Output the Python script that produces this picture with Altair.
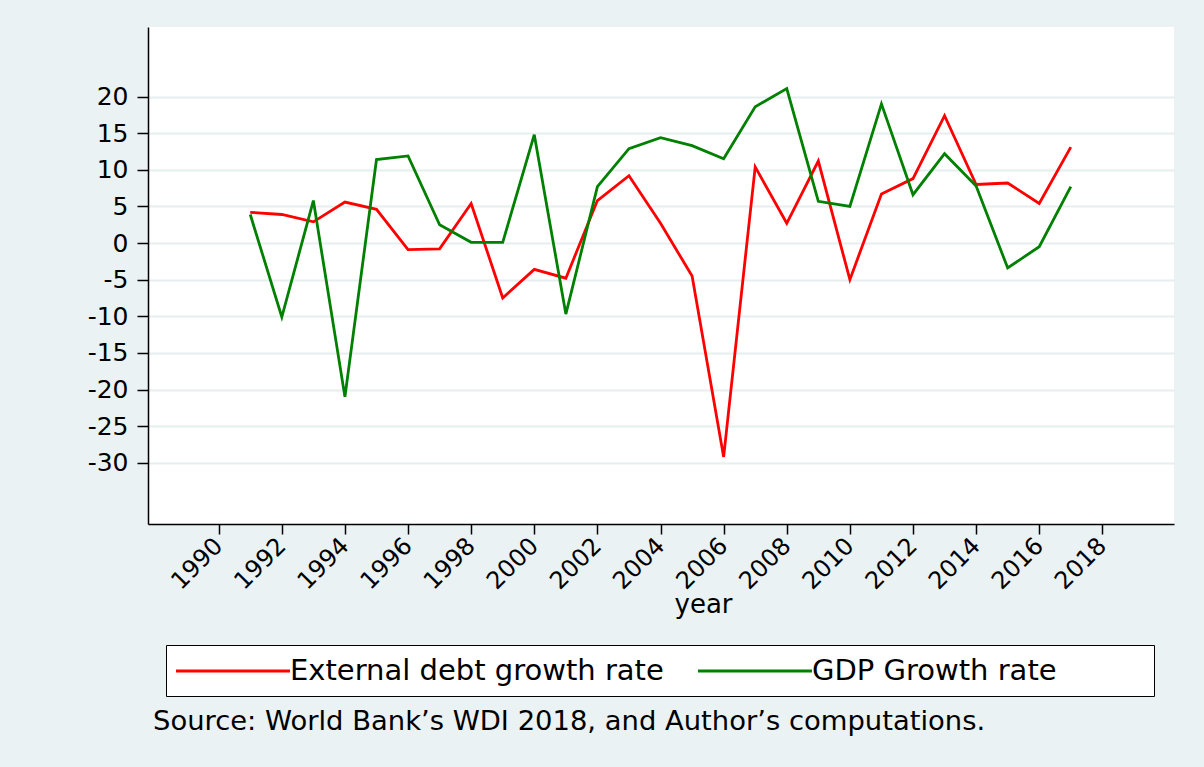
import altair as alt
import pandas as pd

# ---- data ----
years = list(range(1991, 2018))
debt_growth = [4.2, 3.9, 2.9, 5.6, 4.6, -0.9, -0.8, 5.4, -7.5, -3.6,
               -4.8, 5.8, 9.2, 2.7, -4.5, -29.2, 10.4, 2.7, 11.2, -5.0,
               6.7, 8.8, 17.4, 8.0, 8.2, 5.4, 13.1]
gdp_growth = [3.9, -10.1, 5.8, -21.0, 11.4, 11.9, 2.5, 0.1, 0.1, 14.8,
              -9.7, 7.7, 12.9, 14.4, 13.3, 11.5, 18.6, 21.1, 5.7, 5.0,
              19.0, 6.6, 12.2, 7.8, -3.4, -0.5, 7.7]
series_names = ["External debt growth rate", "GDP Growth rate"]
series_colors = ["#ff0000", "#008000"]
x_ticks = list(range(1990, 2019, 2))
y_ticks = list(range(-30, 21, 5))
source_note = "Source: World Bank\u2019s WDI 2018, and Author\u2019s computations."

rows = []
for name, vals in zip(series_names, [debt_growth, gdp_growth]):
    for yr, v in zip(years, vals):
        rows.append({"year": yr, "value": v, "series": name})
df = pd.DataFrame(rows)

FONT = "DejaVu Sans"
BG = "#eaf2f3"
# em spaces closed by a zero-width space so the padding is not trimmed away
PAD = "\u2003" * 3 + "\u200b"

legend = alt.Legend(
    orient="none", legendX=18, legendY=618, direction="horizontal", columns=2,
    title=None, symbolType="M-4,0H4", symbolSize=812, symbolStrokeWidth=3,
    symbolOffset=41, labelOffset=41, columnPadding=28, padding=10,
    labelFont=FONT, labelFontSize=29, labelColor="black", labelLimit=2000,
    strokeColor="black", fillColor="white",
    labelExpr="datum.value == 'GDP Growth rate' ? datum.label + '" + PAD + "' : datum.label",
)

chart = alt.Chart(df).mark_line(strokeWidth=2.8, clip=True).encode(
    x=alt.X("year:Q",
            scale=alt.Scale(domain=[1987.76, 2020.27], nice=False, zero=False),
            axis=alt.Axis(values=x_ticks, format="d", labelAngle=-45,
                          labelAlign="right", labelBaseline="middle", labelPadding=8,
                          labelFontSize=24, labelOverlap=False, labelFlush=False,
                          tickSize=10, grid=False, title="year",
                          titleFontSize=26, titleX=555, titleY=88,
                          titleBaseline="alphabetic", titleAlign="center")),
    y=alt.Y("value:Q",
            scale=alt.Scale(domain=[-38.36, 29.5], nice=False, zero=False),
            axis=alt.Axis(values=y_ticks, labelFontSize=25, labelPadding=9,
                          labelFlush=False, labelOverlap=False, tickSize=11,
                          labelExpr="replace(datum.label, '\u2212', '-')",
                          grid=True, gridColor="#e6eef0", gridWidth=2, title=None)),
    color=alt.Color("series:N",
                    scale=alt.Scale(domain=series_names, range=series_colors),
                    legend=legend),
).properties(
    width=1026, height=497,
    autosize=alt.AutoSizeParams(type="none"),
    padding={"left": 148, "top": 27, "right": 30, "bottom": 243},
    title=alt.TitleParams(source_note, orient="bottom", anchor="start", frame="group",
                          dx=5, offset=11, font=FONT, fontSize=27.4,
                          fontWeight="normal", color="black"),
).configure(
    background=BG,
).configure_view(
    fill="white", stroke=None,
).configure_axis(
    labelFont=FONT, titleFont=FONT, labelColor="black", titleColor="black",
    titleFontWeight="normal", domainColor="black", domainWidth=1.5,
    tickColor="black", tickWidth=1.5,
)

chart.save("out.html", embed_options={"renderer": "svg", "actions": False})
